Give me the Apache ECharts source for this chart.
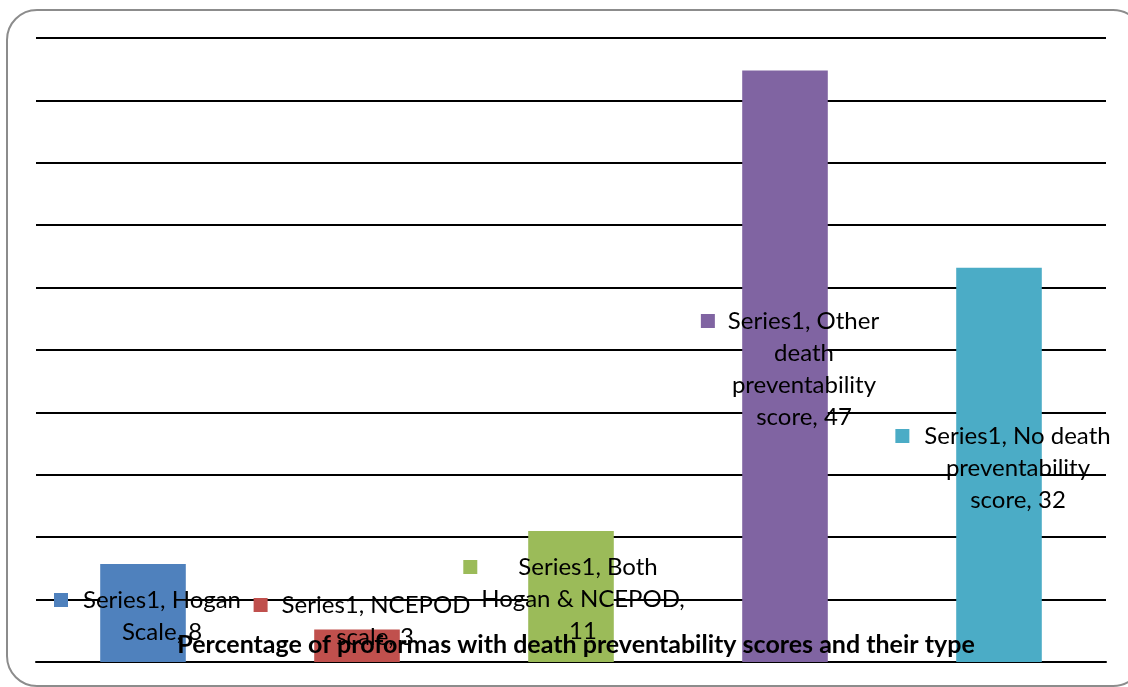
<!DOCTYPE html>
<html>
<head>
<meta charset="utf-8">
<script src="https://cdn.jsdelivr.net/npm/echarts@6/dist/echarts.min.js"></script>
<style>
  html, body { margin: 0; padding: 0; background: #fff; }
  #main { width: 1128px; height: 687px; }
</style>
</head>
<body>
<div id="main"></div>
<script>
// dados
var categories = ['Hogan Scale', 'NCEPOD scale', 'Both Hogan & NCEPOD', 'Other death preventability score', 'No death preventability score'];
var values = [7.85, 2.6, 10.5, 47.4, 31.6];
var colors = ['#4F81BD', '#C0504D', '#9BBB59', '#8064A2', '#4BACC6'];
// texto das etiquetas (quebras como no original)
var labelLines = [
  ['Series1, Hogan', 'Scale, 8'],
  ['Series1, NCEPOD', 'scale, 3'],
  ['Series1, Both', 'Hogan & NCEPOD,', '11'],
  ['Series1, Other', 'death', 'preventability', 'score, 47'],
  ['Series1, No death', 'preventability', 'score, 32']
];
// deslocamento da etiqueta e espacos em volta do quadrado da legenda
var labelOffsets = [[19, -14], [18, -9], [12, -15], [19, -229], [19, -146]];
var keyGaps = [15, 14, 41, 13, 15];
var tailGaps = [29, 26, 45, 28, 30];
var titleText = 'Percentage of proformas with death preventability scores and their type';

var myChart = echarts.init(document.getElementById('main'));

var data = values.map(function(v, i) {
  return {
    value: v,
    itemStyle: { color: colors[i] },
    label: {
      offset: labelOffsets[i],
      rich: {
        sq: { width: 14, height: 14, backgroundColor: colors[i], lineHeight: 32 },
        sp: { width: keyGaps[i], lineHeight: 32 },
        tl: { width: tailGaps[i], lineHeight: 32 },
        t: { fontFamily: 'Lato', fontSize: 24, color: '#000', lineHeight: 32 }
      }
    }
  };
});

myChart.setOption({
  animation: false,
  title: {
    text: titleText,
    left: 571,
    top: 627,
    textAlign: 'center',
    textStyle: { fontFamily: 'Lato', fontWeight: 'bold', fontSize: 25, color: '#000' }
  },
  graphic: [{
    type: 'rect',
    shape: { x: 7, y: 10, width: 1136, height: 676, r: 30 },
    style: { fill: 'none', stroke: '#8c8c8c', lineWidth: 2 },
    z: 100
  }],
  grid: { left: 36, right: 22, top: 38, bottom: 25 },
  xAxis: {
    type: 'category',
    data: categories,
    axisLine: { lineStyle: { color: '#000', width: 2 } },
    axisTick: { show: false },
    axisLabel: { show: false }
  },
  yAxis: {
    type: 'value',
    min: 0,
    max: 50,
    interval: 5,
    axisLabel: { show: false },
    axisLine: { show: false },
    axisTick: { show: false },
    splitLine: { lineStyle: { color: '#000', width: 2 } }
  },
  series: [{
    type: 'bar',
    barWidth: '40%',
    data: data,
    z: 1,
    label: {
      show: true,
      position: 'insideBottom',
      distance: 0,
      align: 'center',
      verticalAlign: 'bottom',
      formatter: function(p) {
        var lines = labelLines[p.dataIndex];
        var out = ['{sq|}{sp|}{t|' + lines[0] + '}{tl|}'];
        for (var k = 1; k < lines.length; k++) out.push('{t|' + lines[k] + '}');
        return out.join('\n');
      }
    }
  }]
});
</script>
</body>
</html>
